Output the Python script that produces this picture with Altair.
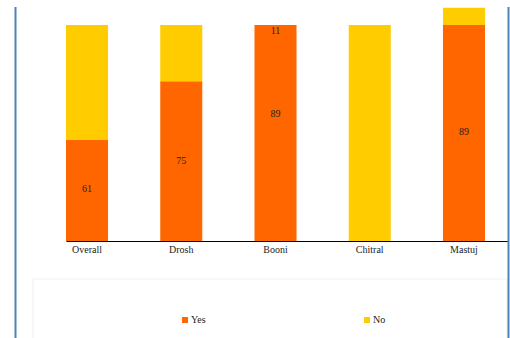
import altair as alt
import pandas as pd

categories = ["Overall", "Drosh", "Booni", "Chitral", "Mastuj"]
yes_values = [47, 74, 100, 0, 100]
no_values = [53, 26, 0, 100, 8]

label_categories = ["Overall", "Drosh", "Booni", "Booni", "Mastuj"]
label_texts = ["61", "75", "89", "11", "89"]
label_positions = [24, 37, 59, 97, 50.5]

series = ["Yes", "No"]
colors = ["#FF6600", "#FFCC00"]

rows = []
for c, y, n in zip(categories, yes_values, no_values):
    rows.append({"category": c, "series": "Yes", "value": y, "order": 0})
    rows.append({"category": c, "series": "No", "value": n, "order": 1})
bars_df = pd.DataFrame(rows)
labels_df = pd.DataFrame({"category": label_categories, "text": label_texts, "pos": label_positions})

FONT = "Liberation Serif"

xenc = alt.X(
    "category:N",
    sort=categories,
    scale=alt.Scale(paddingInner=0.554, paddingOuter=0.122, align=0),
    axis=alt.Axis(title=None, labelAngle=0, ticks=False, domainColor="black", domainWidth=1,
                  labelFont=FONT, labelFontSize=10, labelColor="#222222", labelPadding=3),
)
yscale = alt.Scale(domain=[0, 108.33], nice=False, zero=True)

bars = alt.Chart(bars_df).mark_bar().encode(
    x=xenc,
    y=alt.Y("value:Q", stack="zero", scale=yscale, axis=None),
    color=alt.Color(
        "series:N",
        scale=alt.Scale(domain=series, range=colors),
        legend=alt.Legend(
            title=None, orient="none", legendX=114, legendY=308, direction="horizontal",
            symbolType="square", symbolSize=36, symbolStrokeWidth=0, labelFont=FONT,
            labelFontSize=10, labelColor="#222222", labelOffset=1, columnPadding=156, padding=0,
        ),
    ),
    order=alt.Order("order:Q"),
)

texts = alt.Chart(labels_df).mark_text(font=FONT, fontSize=10, color="#222222").encode(
    x=alt.X("category:N", sort=categories),
    y=alt.Y("pos:Q", scale=yscale),
    text="text:N",
)

one = pd.DataFrame({"a": [0]})
left_line = alt.Chart(one).mark_rule(color="#4F81BD", strokeWidth=2).encode(
    x=alt.value(-50.5), y=alt.value(0), y2=alt.value(335))
right_line = alt.Chart(one).mark_rule(color="#4F81BD", strokeWidth=2).encode(
    x=alt.value(442.5), y=alt.value(0), y2=alt.value(335))
legend_box = alt.Chart(one).mark_rect(fill="white", stroke="#f0f0f0", strokeWidth=1).encode(
    x=alt.value(-33), x2=alt.value(441), y=alt.value(272), y2=alt.value(340))

chart = alt.layer(legend_box, bars, texts, left_line, right_line).properties(
    width=442, height=234,
    autosize=alt.AutoSizeParams(type="none"),
    padding={"left": 66, "top": 7, "right": 2, "bottom": 97},
    background="white",
).configure_view(stroke=None)

chart.save("out.html", embed_options={"renderer": "svg", "actions": False})
